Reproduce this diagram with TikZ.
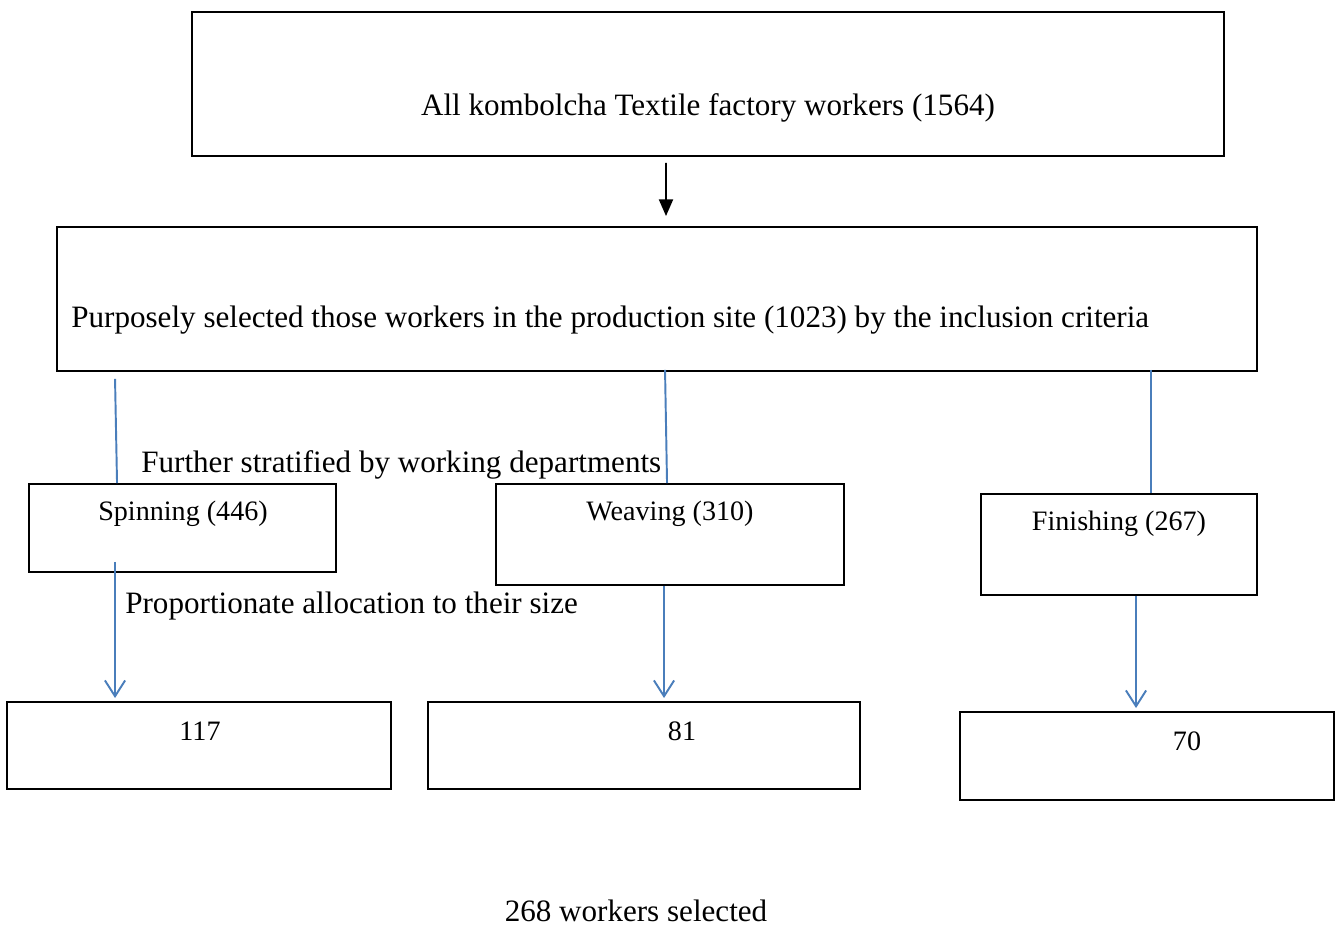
\documentclass[tikz,border=0pt]{standalone}
\usepackage{fontspec}
\setmainfont{Liberation Serif}
\usetikzlibrary{arrows.meta,positioning,fit,calc}

\begin{document}
\begin{tikzpicture}[
  x=0.02cm, y=-0.02cm,
  every node/.style={font=\fontsize{17.7}{21}\selectfont},
  box/.style={draw, line width=1.1pt, inner sep=0pt, fit={#1}},
  dept/.style={font=\fontsize{16}{19}\selectfont, anchor=base},
  main/.style={-{Triangle[length=9.5pt, width=8pt]}, line width=1.1pt},
  bline/.style={draw=blueline, line width=1.1pt},
  barr/.style={bline, -{Straight Barb[length=9pt, width=11.5pt]}}
]
\definecolor{blueline}{RGB}{74,126,187}
\useasboundingbox (0,0) rectangle (1339,930);

% boxes
\node[box={(192,12) (1224,156)}] (all) {};
\node[box={(57,227) (1257,371)}] (purpose) {};
\node[box={(29,484) (336,572)}] (spin) {};
\node[box={(496,484) (844,585)}] (weave) {};
\node[box={(981,494) (1257,595)}] (finish) {};
\node[box={(7,702) (391,789)}] (spinN) {};
\node[box={(428,702) (860,789)}] (weaveN) {};
\node[box={(960,712) (1334,800)}] (finishN) {};

% texts
\node[anchor=base] (alltxt) at (708,115) {All kombolcha Textile factory workers (1564)};
\node[anchor=base west, inner sep=0pt] (purposetxt) at (71,327) {Purposely selected those workers in the production site (1023) by the inclusion criteria};
\node[anchor=base west, inner sep=0pt] (strat) at (141,472) {Further stratified by working departments};
\node[dept] (spintxt) at (183,520) {Spinning (446)};
\node[dept] (weavetxt) at (670,520) {Weaving (310)};
\node[dept] (finishtxt) at (1119,530) {Finishing (267)};
\node[anchor=base west, inner sep=0pt] (alloc) at (125,613) {Proportionate allocation to their size};
\node[dept] (spinNtxt) at (200,740) {117};
\node[dept] (weaveNtxt) at (682,740) {81};
\node[dept] (finishNtxt) at (1187,750) {70};
\node[anchor=base, inner sep=0pt] (total) at (636,921) {268 workers selected};

% connectors
\draw[main] ([xshift=-0.84cm, yshift=-0.12cm]all.south) -- ([xshift=0.18cm, yshift=0.2cm]purpose.north);
\draw[bline] ($(purpose.south west)+(59,7)$) -- ($(spin.north west)+(89,0)$);
\draw[bline] ($(purpose.south west)+(609,-2)$) -- ($(weave.north west)+(172,0)$);
\draw[bline] ($(purpose.south east)+(-107,-2)$) -- ($(finish.north east)+(-107,0)$);
\draw[barr] ($(spin.south west)+(87,-11)$) -- ($(spinN.north west)+(109,-3)$);
\draw[barr] ($(weave.south west)+(169,0)$) -- ($(weaveN.north west)+(237,-3)$);
\draw[barr] ($(finish.south west)+(156,0)$) -- ($(finishN.north west)+(177,-3)$);
\end{tikzpicture}
\end{document}
